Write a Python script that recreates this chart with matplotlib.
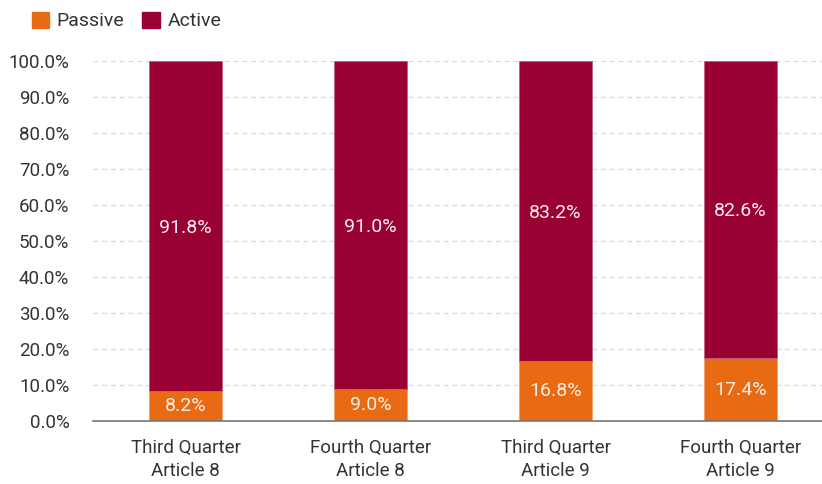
import matplotlib.pyplot as plt
import matplotlib.font_manager as fm
from matplotlib.patches import Patch

names = set(f.name for f in fm.fontManager.ttflist)
fam = "Liberation Sans Narrow" if "Liberation Sans Narrow" in names else "Roboto"
plt.rcParams['font.family'] = [fam, 'DejaVu Sans']

categories = ["Third Quarter\nArticle 8", "Fourth Quarter\nArticle 8",
              "Third Quarter\nArticle 9", "Fourth Quarter\nArticle 9"]
passive = [8.2, 9.0, 16.8, 17.4]
active = [91.8, 91.0, 83.2, 82.6]

c_passive = "#E86A12"
c_active = "#990033"

fig = plt.figure(figsize=(8.22, 4.84), dpi=100)
ax = fig.add_axes([93/822, 1 - 421/484, (822-93)/822, 360/484])

x = range(len(categories))
w = 0.395
ax.bar(x, passive, w, color=c_passive, edgecolor="#f4a070", linewidth=0.6, zorder=3)
ax.bar(x, active, w, bottom=passive, color=c_active, edgecolor="#c06080", linewidth=0.6, zorder=3)

for i in x:
    ax.text(i, passive[i] / 2, f"{passive[i]:.1f}%", ha="center", va="center",
            color="#fdeee8", fontsize=14, zorder=4)
    ax.text(i, passive[i] + active[i] / 2 - 0.5, f"{active[i]:.1f}%", ha="center", va="center",
            color="#fdeee8", fontsize=14, zorder=4)

ax.set_ylim(0, 100)
ax.set_xlim(-0.5, 3.44)
ax.set_yticks(range(0, 101, 10))
ax.set_yticklabels([f"{v:.1f}%" for v in range(0, 101, 10)])
ax.set_xticks(list(x))
ax.set_xticklabels(categories, linespacing=1.35)
ax.tick_params(axis="both", length=0, labelsize=13.5, colors="#333333")
ax.tick_params(axis="x", pad=13)
ax.tick_params(axis="y", pad=17)
ax.yaxis.grid(True, color="#d9d9d9", linestyle=(0, (4, 3)), linewidth=0.9, zorder=0)
for s in ["top", "right", "left"]:
    ax.spines[s].set_visible(False)
ax.spines["bottom"].set_color("#777777")
ax.spines["bottom"].set_linewidth(1.2)
ax.spines["bottom"].set_zorder(5)

handles = [Patch(color=c_passive, label="Passive"), Patch(color=c_active, label="Active")]
fig.legend(handles=handles, loc="upper left", bbox_to_anchor=(14/822, 1.012), ncol=2,
           frameon=False, fontsize=14, handlelength=0.9, handleheight=0.9,
           handletextpad=0.4, columnspacing=0.9, labelcolor="#333333")

fig.savefig("out.png", dpi=100)
